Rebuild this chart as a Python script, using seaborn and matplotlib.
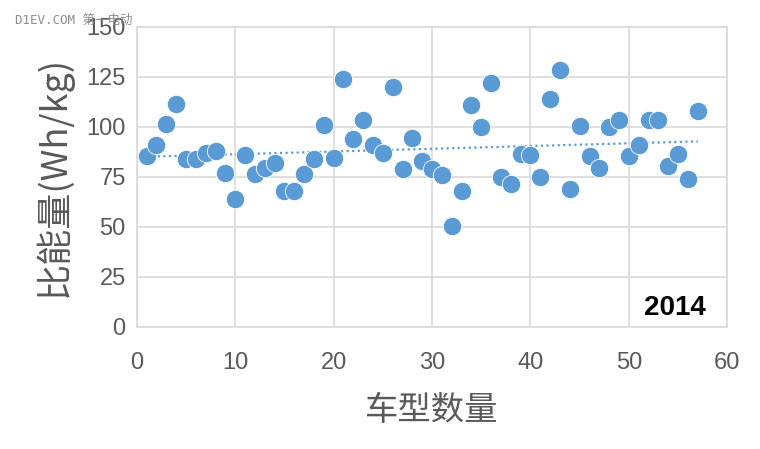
import matplotlib
matplotlib.use("Agg")
import matplotlib.pyplot as plt
import pandas as pd
import seaborn as sns

# vehicle index and specific energy (Wh/kg)
model_no = list(range(1, 58))
energy = [85.5, 91, 101.5, 111.5, 84, 84, 87, 88, 77, 64,
          86, 76.5, 79.5, 82, 68, 68, 76.5, 84, 101, 84.5,
          124, 94, 103.5, 91, 87, 120, 79, 94.5, 83, 79,
          76, 50.5, 68, 111, 100, 122, 75, 71.5, 86.5, 86,
          75, 114, 128.5, 69, 100.5, 85.5, 79.5, 100, 103.5, 85.5,
          91, 103.5, 103.5, 80.5, 86.5, 74, 108]
x_ticks = [0, 10, 20, 30, 40, 50, 60]
y_ticks = [0, 25, 50, 75, 100, 125, 150]
year_label = "2014"

df = pd.DataFrame({"n": model_no, "e": energy})

sns.set_style("white")
plt.rcParams["font.family"] = ["Liberation Sans", "Noto Sans CJK SC", "DejaVu Sans"]

blue = "#5b9bd5"
grey = "#595959"
grid_c = "#d9d9d9"

fig = plt.figure(figsize=(7.6, 4.49), dpi=100)
ax = fig.add_axes([0.180, 0.272, 0.777, 0.668])

sns.regplot(data=df, x="n", y="e", ax=ax, scatter=False, ci=None,
            line_kws={"color": blue, "linestyle": (0, (1, 1.5)), "lw": 1.6})
sns.scatterplot(data=df, x="n", y="e", ax=ax, color=blue, s=175,
                edgecolor="white", linewidth=0.6, zorder=3)

ax.set_xlim(0, 60)
ax.set_ylim(0, 150)
ax.set_xticks(x_ticks)
ax.set_yticks(y_ticks)
ax.grid(True, color=grid_c, lw=1.2)
ax.set_axisbelow(True)
for sp in ax.spines.values():
    sp.set_color(grid_c)
    sp.set_linewidth(1.2)
ax.tick_params(axis="both", length=0, labelsize=17, labelcolor=grey)
ax.tick_params(axis="y", pad=8)
ax.tick_params(axis="x", pad=18)

ax.set_xlabel("车型数量", fontsize=24, color=grey,
              family=["Noto Sans CJK SC", "DejaVu Sans"], labelpad=14)
ax.set_ylabel("比能量(Wh/kg)", fontsize=26, color=grey,
              family=["Noto Sans CJK SC", "DejaVu Sans"], labelpad=10)

ax.text(0.963, 0.02, year_label, transform=ax.transAxes, ha="right", va="bottom",
        fontsize=20, fontweight="bold", color="black",
        family=["Liberation Sans Narrow", "Liberation Sans"])

fig.text(0.02, 0.955, "D1EV.COM 第一电动", fontsize=9, color="#8c8c8c",
         family=["DejaVu Sans Mono", "Noto Sans CJK SC"], va="center")

fig.savefig("out.png", dpi=100, facecolor="white")
